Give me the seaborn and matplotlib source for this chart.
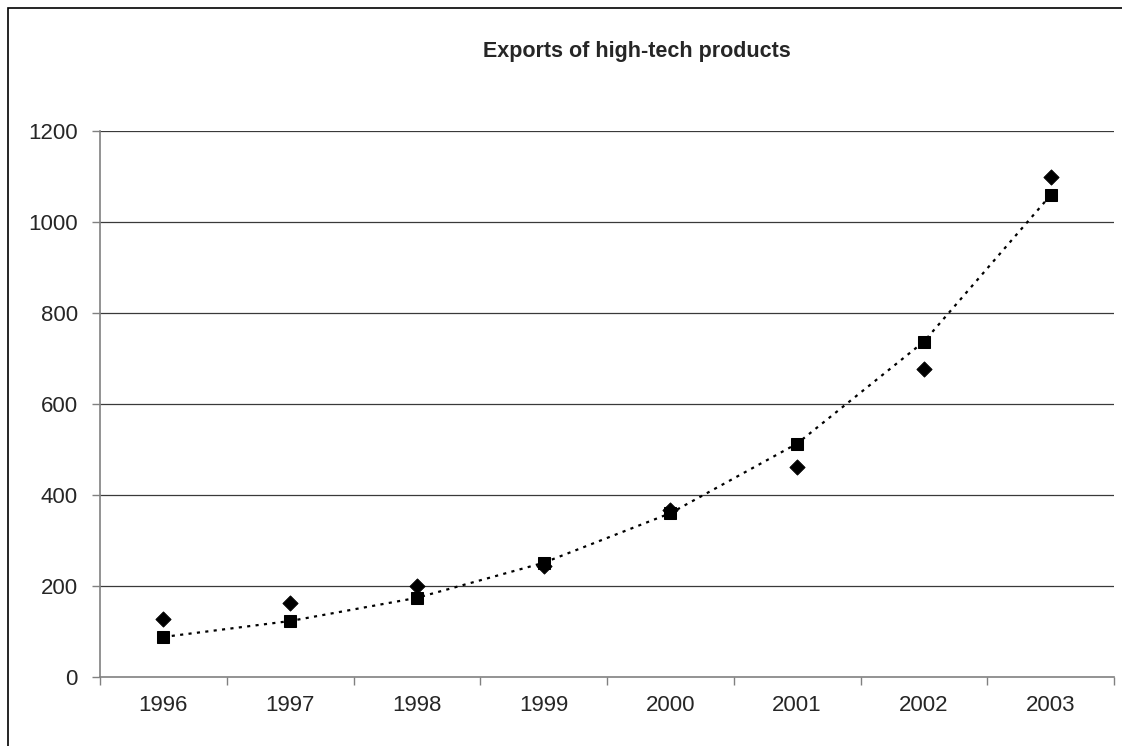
import matplotlib
matplotlib.use("Agg")
import matplotlib.pyplot as plt
import seaborn as sns
import pandas as pd
from matplotlib.patches import Rectangle

# Export values by year
years = ["1996", "1997", "1998", "1999", "2000", "2001", "2002", "2003"]
actual = [127, 163, 200, 244, 367, 462, 678, 1100]
trend = [88, 123, 174, 251, 360, 513, 737, 1059]
y_ticks = [0, 200, 400, 600, 800, 1000, 1200]

df = pd.DataFrame({"year": years, "actual": actual, "trend": trend})

sns.set_theme(style="white")
plt.rcParams["font.family"] = ["Liberation Sans", "DejaVu Sans"]

fig = plt.figure(figsize=(11.22, 7.46), dpi=100)
ax = fig.add_axes([100 / 1122, 1 - 677 / 746, (1114 - 100) / 1122, (677 - 131) / 746])

axis_col = "#808080"
for v in y_ticks[1:]:
    ax.axhline(v, color="#3a3a3a", lw=0.9, zorder=0)

sns.lineplot(data=df, x="year", y="trend", ax=ax, color="black", lw=1.6,
             linestyle=(0, (1.4, 2.4)), marker="s", markersize=8,
             markeredgecolor="black", markerfacecolor="black", sort=False, zorder=3)
sns.scatterplot(data=df, x="year", y="actual", ax=ax, marker="D", s=60,
                color="black", edgecolor="black", zorder=4)

n = len(years)
ax.set_xlim(-0.5, n - 0.5)
ax.set_ylim(0, 1200)
ax.set_yticks(y_ticks)
ax.set_yticklabels([str(v) for v in y_ticks], fontsize=16)
ax.set_xticks([i - 0.5 for i in range(n + 1)])
ax.set_xticklabels([""] * (n + 1))
ax.set_xticks(range(n), minor=True)
ax.set_xticklabels(years, minor=True, fontsize=16)
ax.tick_params(axis="x", which="major", direction="out", length=6, width=1,
               color=axis_col, bottom=True)
ax.tick_params(axis="x", which="minor", length=0, pad=13, bottom=True)
ax.tick_params(axis="y", direction="out", length=6, width=1, color=axis_col,
               left=True, pad=10)
ax.set_xlabel("")
ax.set_ylabel("")
for s in ["top", "right"]:
    ax.spines[s].set_visible(False)
for s in ["left", "bottom"]:
    ax.spines[s].set_color(axis_col)
    ax.spines[s].set_linewidth(1.2)

fig.text(637 / 1122, 1 - 52 / 746, "Exports of high-tech products",
         ha="center", va="center", fontsize=15.5, fontweight="bold")

# Chart-area border
fig.patches.append(Rectangle((8 / 1122, -0.01), 1.02, 1 - 8 / 746 + 0.01,
                             transform=fig.transFigure, fill=False,
                             edgecolor="black", lw=1.2))

fig.savefig("out.png", dpi=100)
